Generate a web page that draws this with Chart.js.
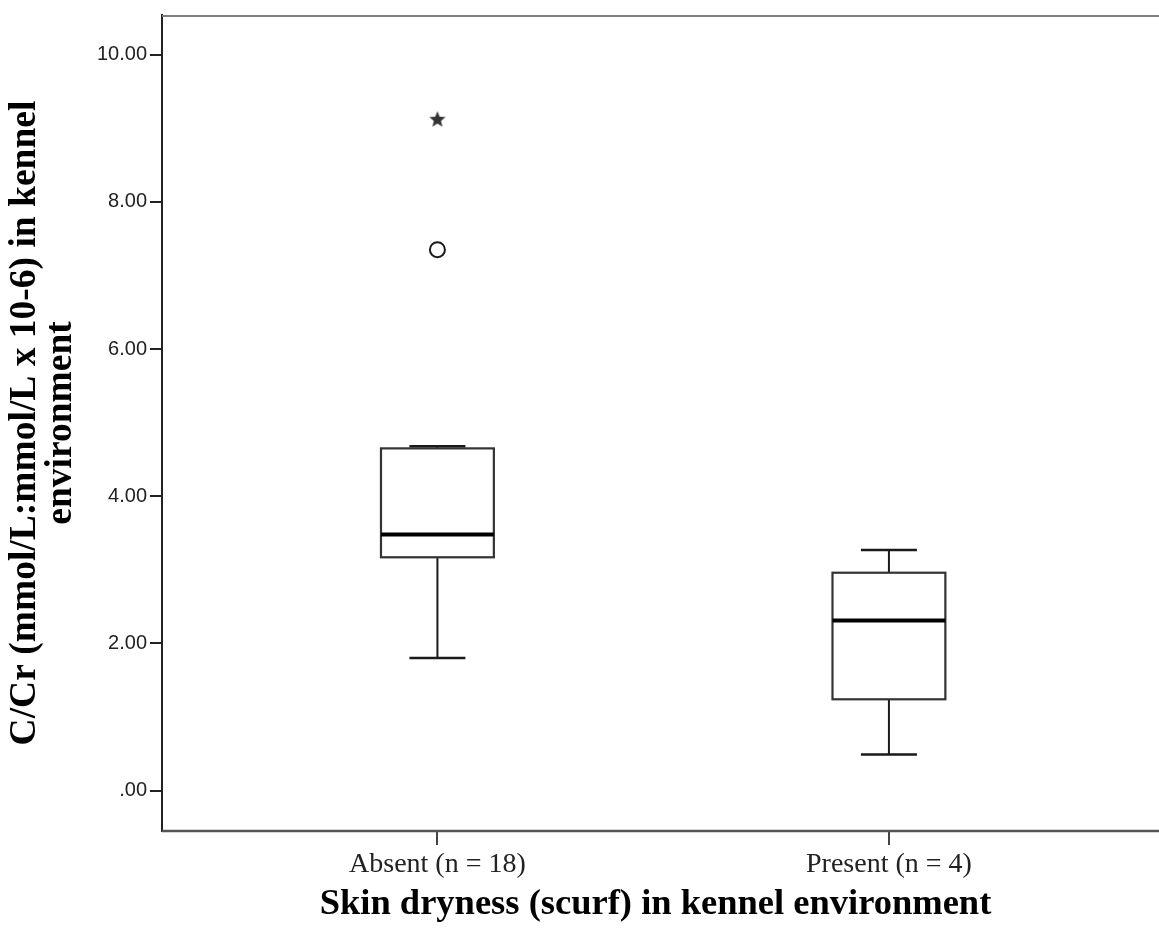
<!DOCTYPE html>
<html>
<head>
<meta charset="utf-8">
<title>C/Cr by skin dryness</title>
<script src="https://cdn.jsdelivr.net/npm/chart.js@4.4.1/dist/chart.umd.min.js"></script>
<style>
  html, body { margin: 0; padding: 0; background: #fff; overflow: hidden; }
  #wrap { width: 1159px; height: 936px; position: relative; }
</style>
</head>
<body>
<div id="wrap"><canvas id="chart"></canvas></div>
<script>
// groups on the x axis
const categories = ['Absent (n = 18)', 'Present (n = 4)'];

// box plot summaries, one entry per group
const whiskerLow = [1.80, 0.49];
const quartile1 = [3.17, 1.24];
const medians = [3.48, 2.31];
const quartile3 = [4.65, 2.96];
const whiskerHigh = [4.68, 3.27];

// outliers (circle) and extreme values (star): group index, value
const outlierGroups = [0];
const outlierValues = [7.35];
const extremeGroups = [0];
const extremeValues = [9.13];

const yTicks = [0, 2, 4, 6, 8, 10];
const yTitle = ['C/Cr (mmol/L:mmol/L x 10-6) in kennel', 'environment'];
const xTitle = 'Skin dryness (scurf) in kennel environment';

const ink = '#1a1a1a';

// filled five point star, the SPSS marker for extreme values
function makeStar(size, color) {
  const c = document.createElement('canvas');
  c.width = size; c.height = size;
  const g = c.getContext('2d');
  const r = size / 2, ri = r * 0.42;
  g.beginPath();
  for (let i = 0; i < 10; i++) {
    const a = -Math.PI / 2 + i * Math.PI / 5;
    const rr = i % 2 ? ri : r - 0.5;
    g.lineTo(r + rr * Math.cos(a), r + 1 + rr * Math.sin(a));
  }
  g.closePath();
  g.fillStyle = color;
  g.fill();
  return c;
}

const boxPlot = {
  id: 'boxPlot',
  beforeDatasetsDraw(chart) {
    const { ctx, scales: { x, y } } = chart;
    const boxHalf = 0.125, capHalf = 0.062;
    ctx.save();
    categories.forEach((cat, i) => {
      const xl = x.getPixelForValue(i - boxHalf);
      const xr = x.getPixelForValue(i + boxHalf);
      const xc = x.getPixelForValue(i);
      const cl = x.getPixelForValue(i - capHalf);
      const cr = x.getPixelForValue(i + capHalf);
      const yLo = y.getPixelForValue(whiskerLow[i]);
      const yQ1 = y.getPixelForValue(quartile1[i]);
      const yMd = y.getPixelForValue(medians[i]);
      const yQ3 = y.getPixelForValue(quartile3[i]);
      const yHi = y.getPixelForValue(whiskerHigh[i]);

      ctx.strokeStyle = ink;
      ctx.lineWidth = 2;
      // whisker stems
      ctx.beginPath();
      ctx.moveTo(xc, yLo); ctx.lineTo(xc, yQ1);
      ctx.moveTo(xc, yHi); ctx.lineTo(xc, yQ3);
      ctx.stroke();
      // caps
      ctx.lineWidth = 2.5;
      ctx.beginPath();
      ctx.moveTo(cl, yLo); ctx.lineTo(cr, yLo);
      ctx.moveTo(cl, yHi); ctx.lineTo(cr, yHi);
      ctx.stroke();
      // box
      ctx.fillStyle = '#fff';
      ctx.fillRect(xl, yQ3, xr - xl, yQ1 - yQ3);
      ctx.strokeStyle = '#333';
      ctx.lineWidth = 2.2;
      ctx.strokeRect(xl, yQ3, xr - xl, yQ1 - yQ3);
      // median
      ctx.strokeStyle = '#000';
      ctx.lineWidth = 4;
      ctx.beginPath();
      ctx.moveTo(xl, yMd); ctx.lineTo(xr, yMd);
      ctx.stroke();
    });
    ctx.restore();
  },
  afterDraw(chart) {
    // top and bottom edges of the frame run to the edge of the picture
    const { ctx, chartArea: a } = chart;
    ctx.save();
    ctx.lineWidth = 2;
    ctx.strokeStyle = '#808080';
    ctx.beginPath();
    ctx.moveTo(a.left, a.top + 1);
    ctx.lineTo(chart.width, a.top + 1);
    ctx.stroke();
    ctx.strokeStyle = '#555';
    ctx.lineWidth = 2.5;
    ctx.beginPath();
    ctx.moveTo(a.left, a.bottom);
    ctx.lineTo(chart.width, a.bottom);
    ctx.stroke();
    ctx.restore();
  }
};

const chart = new Chart(document.getElementById('chart'), {
  type: 'scatter',
  data: {
    datasets: [
      {
        label: 'Outliers',
        data: outlierGroups.map((g, i) => ({ x: g, y: outlierValues[i] })),
        pointStyle: 'circle',
        pointRadius: 7.5,
        borderWidth: 2,
        borderColor: ink,
        backgroundColor: '#fff'
      },
      {
        label: 'Extremes',
        data: extremeGroups.map((g, i) => ({ x: g, y: extremeValues[i] })),
        pointStyle: makeStar(18, '#333'),
        pointRadius: 9
      }
    ]
  },
  options: {
    responsive: true,
    maintainAspectRatio: false,
    animation: false,
    layout: { padding: { top: 12, right: 0, bottom: 0, left: 0 } },
    plugins: { legend: { display: false }, tooltip: { enabled: false } },
    scales: {
      x: {
        type: 'linear',
        min: -0.61,
        max: 1.576,
        afterBuildTicks: (s) => { s.ticks = categories.map((c, i) => ({ value: i })); },
        afterFit: (s) => { s.height = 105; },
        ticks: {
          callback: (v) => categories[v],
          color: '#222',
          font: { family: 'Liberation Serif', size: 28 },
          padding: 3,
          maxRotation: 0
        },
        grid: { drawOnChartArea: false, tickLength: 14, tickColor: '#444', lineWidth: 2 },
        border: { display: false },
        title: {
          display: true,
          text: xTitle,
          color: '#000',
          font: { family: 'Liberation Serif', size: 36.5, weight: 'bold', lineHeight: 1.1 },
          padding: { top: 0, bottom: 11 }
        }
      },
      y: {
        type: 'linear',
        min: -0.55,
        max: 10.54,
        afterBuildTicks: (s) => { s.ticks = yTicks.map((v) => ({ value: v })); },
        afterFit: (s) => { s.width = 162; },
        ticks: {
          callback: (v) => (v === 0 ? '.00' : v.toFixed(2)),
          color: '#222',
          font: { family: 'Liberation Sans', size: 20 },
          padding: 3
        },
        grid: { drawOnChartArea: false, tickLength: 12, tickColor: '#222', lineWidth: 2 },
        border: { color: '#222', width: 2 },
        title: {
          display: true,
          text: yTitle,
          color: '#000',
          font: { family: 'Liberation Serif', size: 37.5, weight: 'bold', lineHeight: 0.97 },
          padding: { top: 7, bottom: 0 }
        }
      }
    }
  },
  plugins: [boxPlot]
});
</script>
</body>
</html>
